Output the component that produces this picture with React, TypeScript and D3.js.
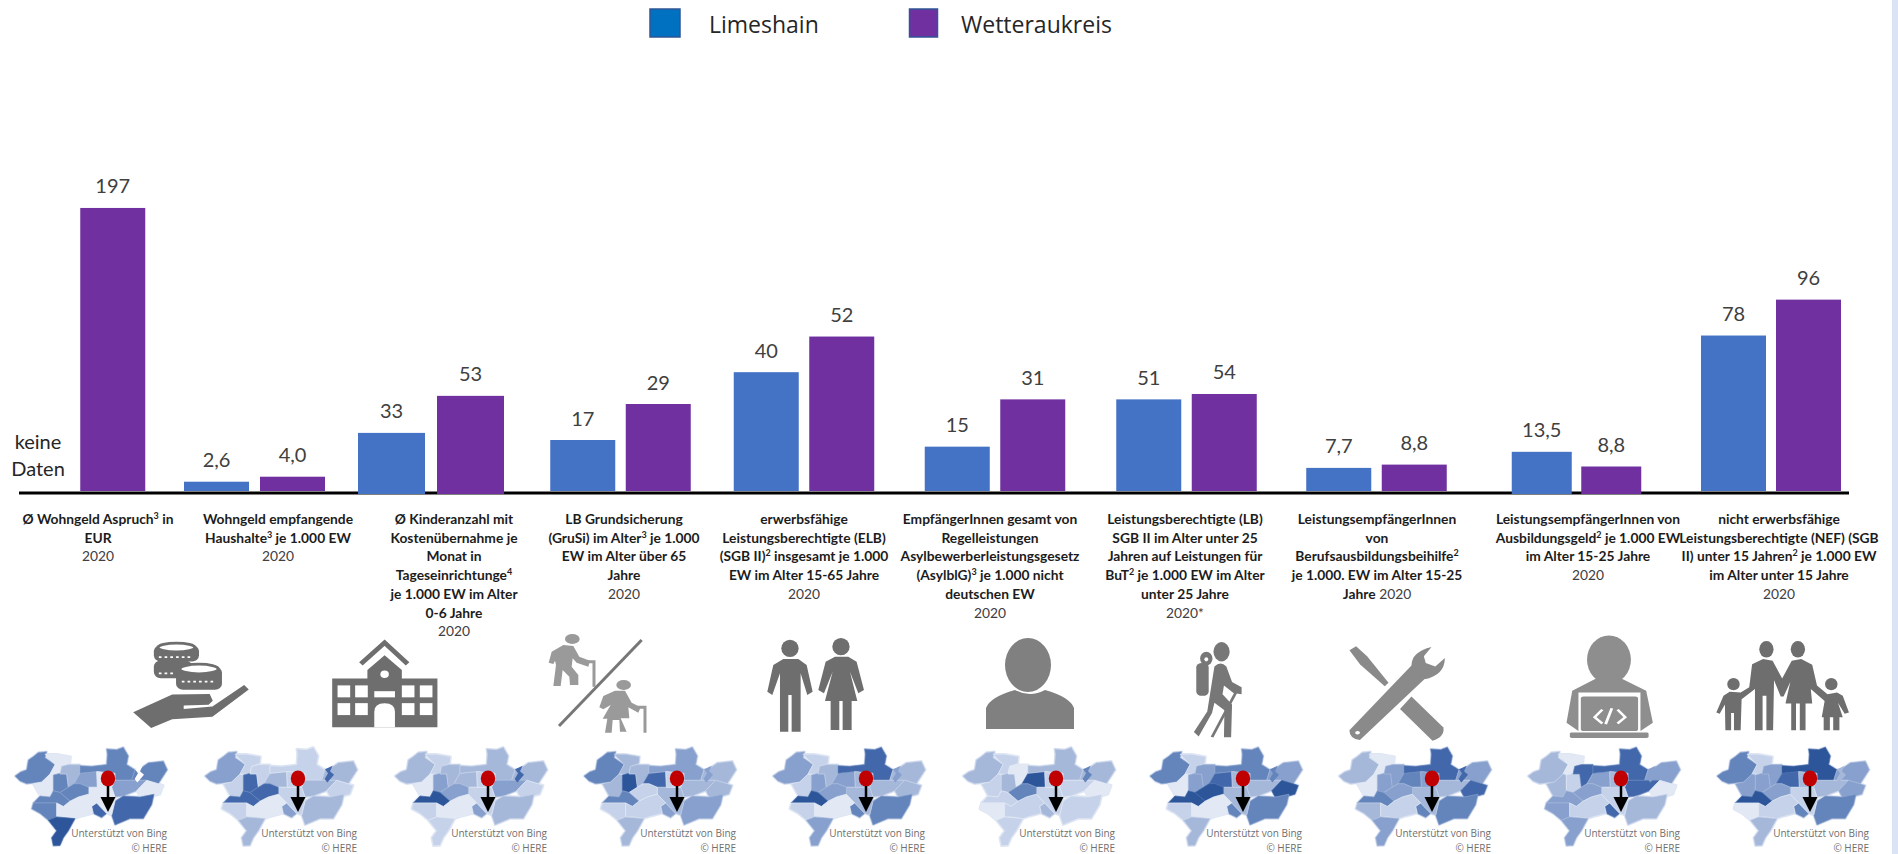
import React from "react";
import * as d3 from "d3";

// ---------- data ----------
const categories = ["wohngeldAnspruch","wohngeldHaushalte","kinder","grusi","elb","asyl","but","bab","abg","nef"];
const limeshain: (number | null)[] = [null, 2.6, 33, 17, 40, 15, 51, 7.7, 13.5, 78];
const wetterau = [197, 4.0, 53, 29, 52, 31, 54, 8.8, 8.8, 96];
const limeshainText = ["", "2,6", "33", "17", "40", "15", "51", "7,7", "13,5", "78"];
const wetterauText = ["197", "4,0", "53", "29", "52", "31", "54", "8,8", "8,8", "96"];
const panelMax = [208.8, 84, 162, 100, 101, 101.5, 167, 100, 96, 150.5];
const labelLines = [
  ["Ø Wohngeld Aspruch^3 in", "EUR"],
  ["Wohngeld empfangende", "Haushalte^3 je 1.000 EW"],
  ["Ø Kinderanzahl mit", "Kostenübernahme je", "Monat in", "Tageseinrichtunge^4", "je 1.000 EW im Alter", "0-6 Jahre"],
  ["LB Grundsicherung", "(GruSi) im Alter^3 je 1.000", "EW im Alter über 65", "Jahre"],
  ["erwerbsfähige", "Leistungsberechtigte (ELB)", "(SGB II)^2 insgesamt je 1.000", "EW im Alter 15-65 Jahre"],
  ["EmpfängerInnen gesamt von", "Regelleistungen", "Asylbewerberleistungsgesetz", "(AsylblG)^3 je 1.000 nicht", "deutschen EW"],
  ["Leistungsberechtigte (LB)", "SGB II im Alter unter 25", "Jahren auf Leistungen für", "BuT^2 je 1.000 EW im Alter", "unter 25 Jahre"],
  ["LeistungsempfängerInnen", "von", "Berufsausbildungsbeihilfe^2", "je 1.000. EW im Alter 15-25"],
  ["LeistungsempfängerInnen von", "Ausbildungsgeld^2 je 1.000 EW", "im Alter 15-25 Jahre"],
  ["nicht erwerbsfähige", "Leistungsberechtigte (NEF) (SGB", "II) unter 15 Jahren^2 je 1.000 EW", "im Alter unter 15 Jahre"],
];
const yearText = ["2020", "2020", "2020", "2020", "2020", "2020", "2020*", "2020", "2020", "2020"];
const legendNames = ["Limeshain", "Wetteraukreis"];

// choropleth shade (0 light .. 6 dark) per map, region order A..S
const mapShades = [
  [4,0,0,4,2,3,4,4,3,0,5,5,0,4,4,4,0,6,0],
  [3,1,1,5,1,2,1,2,2,1,2,3,1,5,5,1,0,2,1],
  [2,1,0,3,2,2,2,2,3,1,2,3,1,3,6,1,0,1,1],
  [4,2,2,6,2,5,3,2,2,2,3,3,2,1,4,1,1,2,1],
  [3,1,1,3,2,3,5,2,2,2,4,4,2,3,6,1,0,3,2],
  [2,1,1,2,0,6,2,2,1,0,1,2,1,4,1,0,1,1,1],
  [4,1,0,3,3,5,4,3,2,6,4,4,2,6,6,1,0,2,2],
  [2,0,0,3,3,4,5,3,2,5,4,4,2,3,4,2,1,3,3],
  [2,0,2,1,5,3,5,3,5,0,2,5,1,3,3,3,1,3,2],
  [4,1,3,3,3,5,6,3,2,3,4,4,1,3,6,0,1,2,2],
];
const lakeShades: (number | null)[] = [-1, 5, 5, 3, 3, 4, 4, 5, 3, 2];

// ---------- layout ----------
const panelCenter = [75, 254.5, 431, 620.5, 804, 995, 1186.5, 1376.5, 1576.5, 1771];
const panelBarW = [65, 65, 67, 65, 65, 65, 65, 65, 60, 65];
const panelGap = [10.5, 11, 12, 10.5, 10.5, 10.5, 10.5, 10.5, 9.5, 10];
const panelBase = [491, 491, 494, 491, 491, 491, 491, 491, 494, 491];
const labelCenter = [98, 278, 454, 624, 804, 990, 1185, 1377, 1588, 1779];
const pinX = [108, 298, 488, 677, 866, 1056, 1243, 1432, 1621, 1810];

const W = 1898, H = 854;
const BLUE = "#4472c4", PURPLE = "#7030a0";
const FONT = "Lato, Carlito, sans-serif";
const shades = ["#e2e9f5", "#c5d2e9", "#a5b8da", "#87a0cd", "#6485bb", "#4267aa", "#2c5699"];

const regions: [number, number][][] = [
  [[45,118],[62,106],[80,100],[85,72],[100,62],[115,50],[140,48],[135,65],[165,85],[150,112],[125,135],[80,140],[60,132]],
  [[135,55],[170,55],[212,62],[210,82],[185,90],[180,112],[150,112],[165,85]],
  [[100,140],[125,135],[150,112],[160,115],[160,160],[150,178],[120,175]],
  [[160,115],[180,110],[200,112],[205,150],[180,165],[160,160]],
  [[185,90],[205,85],[240,85],[240,110],[222,140],[205,150],[200,112],[180,112]],
  [[240,110],[290,105],[292,150],[265,150],[240,140],[222,140]],
  [[240,88],[275,90],[320,85],[322,55],[320,40],[350,42],[370,35],[385,60],[380,85],[405,100],[395,130],[345,130],[345,110],[290,105],[240,110]],
  [[405,100],[415,100],[445,80],[490,75],[502,100],[475,140],[440,130],[395,130]],
  [[345,130],[395,130],[440,130],[410,160],[370,175],[345,178],[335,150]],
  [[410,160],[440,130],[475,140],[490,145],[480,170],[450,178],[420,178]],
  [[345,190],[370,175],[420,178],[462,170],[455,200],[430,240],[390,240],[345,258],[335,230]],
  [[275,205],[290,195],[320,225],[305,237],[280,225]],
  [[292,150],[335,150],[345,178],[345,190],[335,230],[320,225],[290,195],[265,170],[265,150]],
  [[180,165],[205,150],[222,140],[240,140],[265,150],[265,170],[235,178],[210,190]],
  [[100,195],[120,175],[150,178],[160,160],[180,165],[210,190],[190,205],[170,195]],
  [[95,212],[100,195],[170,195],[170,235],[145,245],[120,225]],
  [[170,195],[190,205],[210,190],[235,178],[265,170],[290,195],[275,205],[280,225],[240,235],[225,240],[190,235],[170,235]],
  [[145,245],[170,235],[225,240],[205,275],[190,295],[180,317],[160,318],[155,295],[170,275]],
  [[290,105],[345,110],[345,130],[335,150],[292,150]],
];
const lake: [number, number][] = [[405,98],[428,88],[420,104],[432,114],[412,136],[404,126],[414,110]];
const regionPath = d3.line().curve(d3.curveLinearClosed);

const xCenter = d3.scaleOrdinal<string, number>().domain(categories).range(panelCenter);
const yScales = categories.map((_, i) => d3.scaleLinear().domain([0, panelMax[i]]).range([panelBase[i], panelBase[i] - 300]));

function supText(line: string) {
  return line.split(/\^(\d)/).map((part, i) =>
    i % 2 === 1 ? (
      <tspan key={i} fontSize={9} dy={-5}>{part}</tspan>
    ) : i > 0 ? (
      <tspan key={i} dy={5}>{part}</tspan>
    ) : (
      <tspan key={i}>{part}</tspan>
    )
  );
}

function Bars() {
  return (
    <g>
      {categories.map((c, i) => {
        const w = panelBarW[i], g = panelGap[i], cx = xCenter(c);
        const y = yScales[i];
        const a = limeshain[i], b = wetterau[i];
        return (
          <g key={c}>
            {a !== null && (
              <g>
                <rect x={cx - g / 2 - w} y={y(a)} width={w} height={panelBase[i] - y(a)} fill={BLUE} />
                <text x={cx - g / 2 - w / 2} y={y(a) - 14.5} textAnchor="middle" fontFamily={FONT} fontSize={20} fill="#404040">{limeshainText[i]}</text>
              </g>
            )}
            <rect x={cx + g / 2} y={y(b)} width={w} height={panelBase[i] - y(b)} fill={PURPLE} />
            <text x={cx + g / 2 + w / 2} y={y(b) - 14.5} textAnchor="middle" fontFamily={FONT} fontSize={20} fill="#404040">{wetterauText[i]}</text>
          </g>
        );
      })}
    </g>
  );
}

function Labels() {
  return (
    <g fontFamily={FONT} fontSize={13.8}>
      {labelLines.map((lines, i) => {
        const inline = i === 7;
        return (
          <g key={i}>
            {lines.map((l, j) => (
              <text key={j} x={labelCenter[i]} y={524 + j * 18.7} textAnchor="middle" fontWeight={700} fill="#1c1c1c">{supText(l)}</text>
            ))}
            {inline ? (
              <text x={labelCenter[i]} y={524 + lines.length * 18.7} textAnchor="middle" fill="#404040">
                <tspan fontWeight={700} fill="#1c1c1c">Jahre</tspan> {yearText[i]}
              </text>
            ) : (
              <text x={labelCenter[i]} y={524 + lines.length * 18.7} textAnchor="middle" fill="#404040">{yearText[i]}</text>
            )}
          </g>
        );
      })}
    </g>
  );
}

function Maps() {
  return (
    <g>
      {mapShades.map((row, m) => {
        const lk = lakeShades[m];
        return (
          <g key={m}>
            <g transform={`translate(${pinX[m] - 108},735) scale(${1 / 3},${1 / 2.87})`}>
              {regions.map((r, k) => (
                <path key={k} d={regionPath(r) ?? ""} fill="#dfe6f3" stroke="#dfe6f3" strokeWidth={7} strokeLinejoin="round" />
              ))}
              {regions.map((r, k) => (
                <path key={k} d={regionPath(r) ?? ""} fill={shades[row[k]]} stroke={shades[Math.max(0, row[k] - 1)]} strokeWidth={2} strokeLinejoin="round" />
              ))}
              {lk !== null && <path d={regionPath(lake) ?? ""} fill={lk < 0 ? "#fff" : shades[lk]} />}
            </g>
            <ellipse cx={pinX[m]} cy={778.5} rx={7.2} ry={8} fill="#c00000" />
            <line x1={pinX[m]} x2={pinX[m]} y1={786} y2={798} stroke="#000" strokeWidth={2.5} />
            <path d={`M${pinX[m] - 7.5},797 L${pinX[m] + 7.5},797 L${pinX[m]},812 Z`} fill="#000" />
            <g fontFamily="'Open Sans', sans-serif" fontSize={10} fill="#707070" textAnchor="end">
              <text x={pinX[m] + 59} y={837}>Unterstützt von Bing</text>
              <text x={pinX[m] + 59} y={852}>© HERE</text>
            </g>
          </g>
        );
      })}
    </g>
  );
}

function Icons() {
  const dark = "#6e6e6e";
  return (
    <g>
      {/* coins + hand, school */}
      <g transform={`translate(0,640) scale(${1 / 2.613},${1 / 2.93})`}>
        <g fill={dark}>
          <rect x="402" y="15" width="118" height="48" rx="18" />
          <rect x="402" y="60" width="100" height="52" rx="18" />
          <rect x="460" y="78" width="120" height="68" rx="18" />
          <path d="M348,212 L450,160 L548,158 L556,178 L545,190 L480,192 L480,202 L555,195 L638,132 L650,145 L555,225 L450,232 L395,258 Z" />
        </g>
        <ellipse cx="461" cy="22" rx="48" ry="13" fill="#fff" stroke={dark} strokeWidth="8" />
        <ellipse cx="520" cy="85" rx="50" ry="14" fill="#fff" stroke={dark} strokeWidth="8" />
        <path d="M415,50 H505 M415,98 H455 M475,122 H565" stroke="#fff" strokeWidth="5" strokeDasharray="7 8" fill="none" />
        <path d="M943,70 L1005,8 L1065,70" fill="none" stroke={dark} strokeWidth="13" />
        <path d="M868,113 H960 V88 L1005,45 L1050,88 V113 H1143 V256 H868 Z" fill={dark} />
        <g fill="#fff">
          <circle cx="1005" cy="100" r="11" />
          {[882, 928, 1050, 1097].map((x) => (
            <g key={x}>
              <rect x={x} y="133" width="33" height="35" />
              <rect x={x} y="185" width="33" height="35" />
            </g>
          ))}
          <rect x="978" y="150" width="54" height="18" />
          <path d="M978,256 V210 Q978,185 1005,185 Q1032,185 1032,210 V256 Z" />
        </g>
      </g>
      {/* elders + couple */}
      <g transform="translate(520,620) scale(0.3333)">
        <g fill="#9a9a9a">
          <ellipse cx="157" cy="57" rx="22" ry="15" />
          <path d="M86,128 L95,95 L130,75 L160,78 L178,110 L210,122 L205,140 L170,128 L158,115 L155,140 L175,165 L175,195 L150,195 L148,170 L128,150 L122,198 L100,198 L108,135 L105,122 L100,132 Z" />
          <ellipse cx="311" cy="195" rx="22" ry="15" />
          <path d="M238,262 L250,228 L285,212 L315,212 L335,248 L362,262 L355,278 L325,262 L328,295 L302,295 L320,335 L300,335 L298,300 L278,300 L275,338 L255,338 L262,296 L248,296 L272,255 L250,268 Z" />
        </g>
        <path d="M205,125 L222,125 L222,200 M352,262 L375,262 L375,338" fill="none" stroke="#9a9a9a" strokeWidth="9" />
        <line x1="117" y1="318" x2="365" y2="60" stroke="#777" strokeWidth="9" />
        <g fill={dark}>
          <circle cx="810" cy="85" r="26" />
          <path d="M742,215 L760,135 L790,117 L835,117 L860,135 L878,215 L862,225 L842,160 L842,335 L815,335 L815,225 L805,225 L805,335 L780,335 L780,160 L757,225 Z" />
          <circle cx="963" cy="80" r="26" />
          <path d="M895,210 L917,125 L945,110 L985,110 L1010,125 L1032,210 L1015,220 L990,155 L1012,243 L995,243 L995,330 L968,330 L968,243 L958,243 L958,330 L932,330 L932,243 L915,243 L938,155 L912,220 Z" />
        </g>
      </g>
      {/* person */}
      <ellipse cx="1028" cy="665" rx="23" ry="27" fill="#808080" />
      <path d="M986,729 V708 Q990,697 1015,690 Q1030,698 1045,690 Q1070,697 1074,708 V729 Z" fill="#808080" />
      {/* hiker, tools, programmer, family */}
      <g transform={`translate(1150,620) scale(${1 / 2.096},${1 / 2.9})`}>
        <g fill="#777">
          <ellipse cx="150" cy="92" rx="17" ry="28" />
          <rect x="97" y="125" width="26" height="95" rx="12" />
          <ellipse cx="118" cy="112" rx="13" ry="20" />
          <path d="M135,135 Q148,118 160,135 L172,180 L192,195 L192,215 L175,212 L155,190 L152,215 L172,245 L170,340 L155,340 L156,262 L135,240 L130,270 L102,338 L92,325 L120,265 Z" />
        </g>
        <ellipse cx="118" cy="114" rx="4" ry="6" fill="#fff" />
        <line x1="180" y1="210" x2="130" y2="340" stroke="#777" strokeWidth="6" />
        <g fill="#8a8a8a">
          <path d="M590,78 Q548,92 548,132 L418,320 Q418,345 440,348 L575,172 Q618,160 618,110 L598,135 L578,125 L574,105 Z" />
          <path d="M418,88 L432,76 L455,105 L500,182 L492,192 L440,128 Z" />
          <path d="M548,222 L615,312 Q618,340 592,350 L524,258 Z" />
        </g>
        <circle cx="435" cy="327" r="5" fill="#fff" />
        <g fill="#8e8e8e">
          <ellipse cx="962" cy="115" rx="46" ry="70" />
          <path d="M873,298 L885,205 L935,170 Q962,188 988,170 L1040,205 L1054,298 L1028,322 V210 H898 V322 Z" />
          <rect x="903" y="222" width="120" height="100" rx="6" />
          <rect x="880" y="326" width="165" height="16" rx="4" />
        </g>
        <path d="M948,260 L932,282 L948,300 M980,260 L996,282 L980,300 M968,256 L955,302" stroke="#fff" strokeWidth="6" fill="none" />
        <g fill={dark}>
          <ellipse cx="1292" cy="85" rx="15" ry="24" />
          <ellipse cx="1358" cy="85" rx="15" ry="24" />
          <ellipse cx="1223" cy="186" rx="13" ry="18" />
          <ellipse cx="1428" cy="186" rx="13" ry="18" />
          <path d="M1262,128 L1285,113 L1305,118 L1325,170 L1345,118 L1365,113 L1388,130 L1398,190 L1420,215 L1440,210 L1452,220 L1465,268 L1456,272 L1442,240 L1452,282 L1445,282 L1445,320 L1432,320 L1432,282 L1425,282 L1425,320 L1412,320 L1412,282 L1408,282 L1414,235 L1385,200 L1388,242 L1374,242 L1374,320 L1362,320 L1362,242 L1354,242 L1354,320 L1344,320 L1344,242 L1332,242 L1342,180 L1328,222 L1322,222 L1308,175 L1306,320 L1292,320 L1292,220 L1284,220 L1284,320 L1268,320 L1268,200 L1240,230 L1238,320 L1224,320 L1224,270 L1218,270 L1218,320 L1206,320 L1205,245 L1194,272 L1187,268 L1202,220 L1215,208 L1238,210 L1256,195 Z" />
        </g>
      </g>
    </g>
  );
}

export default function App() {
  return (
    <svg width={W} height={H} viewBox={`0 0 ${W} ${H}`} style={{ position: "absolute", left: 0, top: 0, display: "block", background: "#fff" }}>
      <rect x={1892} y={0} width={6} height={H} fill="#dae4f5" />
      {/* legend */}
      <rect x={650} y={9} width={30} height={28} fill="#0070c0" stroke="#2f5597" strokeWidth={1.5} />
      <text x={709} y={33} fontFamily="'Open Sans', sans-serif" fontSize={23} fill="#262626">{legendNames[0]}</text>
      <rect x={909.5} y={9} width={28} height={28} fill={PURPLE} stroke="#2f5597" strokeWidth={1.5} />
      <text x={961} y={33} fontFamily="'Open Sans', sans-serif" fontSize={23} fill="#262626">{legendNames[1]}</text>
      {/* baseline */}
      <line x1={19} x2={1849} y1={493} y2={493} stroke="#000" strokeWidth={3} />
      <Bars />
      <g fontFamily={FONT} fontSize={20} fill="#262626" textAnchor="middle">
        <text x={38} y={449}>keine</text>
        <text x={38} y={476}>Daten</text>
      </g>
      <Labels />
      <Icons />
      <Maps />
    </svg>
  );
}
